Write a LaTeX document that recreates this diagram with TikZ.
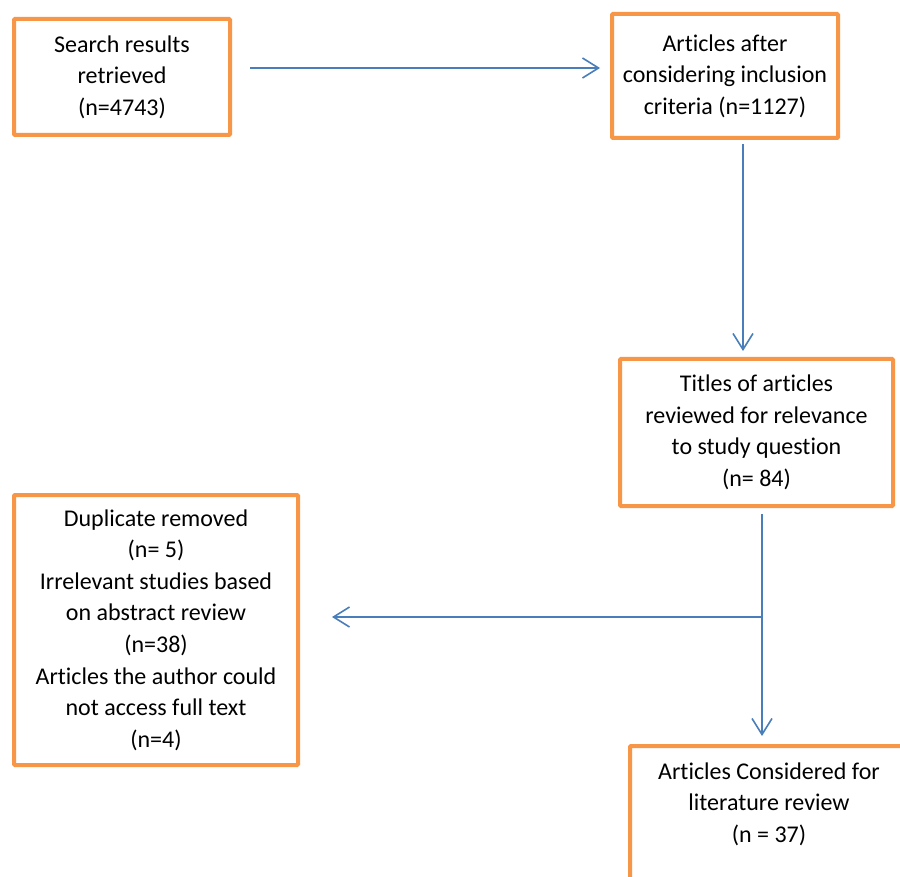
\documentclass[tikz,border=0pt]{standalone}
\usepackage{fontspec}
\setmainfont{Carlito}[Ligatures=NoCommon]
\usetikzlibrary{arrows.meta}
\definecolor{boxorange}{HTML}{F79646}
\definecolor{flowblue}{HTML}{4A7EBB}
\begin{document}
\begin{tikzpicture}[x=1pt, y=-1pt,
	font=\fontsize{24pt}{31.6pt}\selectfont,
	box/.style={draw=boxorange, line width=4pt, fill=white, align=center, inner sep=0pt, rounded corners=1pt},
	flow/.style={draw=flowblue, line width=1.6pt, -{Straight Barb[length=16pt, width=20pt]}}]
	\useasboundingbox (0,0) rectangle (900,877);
	\clip (0,0) rectangle (900,877);
	
	% Kaesten oben
	\node[box, minimum width=216pt, minimum height=116pt] (search) at (122,77) {Search results\\retrieved\\(n=4743)};
	\node[box, minimum width=226pt, minimum height=124pt] (incl) at (725,76) {Articles after\\considering inclusion\\criteria (n=1127)};
	
	% Titel-Pruefung
	\node[box, minimum width=273pt, minimum height=147pt] (titles) at (756.5,432.5) {Titles of articles\\reviewed for relevance\\to study question\\(n= 84)};
	
	% Ausgeschlossene Artikel (links)
	\node[box, minimum width=284pt, minimum height=270pt] (dup) at (156,630) {Duplicate removed\\(n= 5)\\Irrelevant studies based\\on abstract review\\(n=38)\\Articles the author could\\not access full text\\(n=4)};
	
	% Ergebnis (unten, angeschnitten)
	\node[box, minimum width=282pt, minimum height=170pt, anchor=north west] (final) at (628,744) {};
	\node[align=center] (finaltxt) at (769,804) {Articles Considered for\\literature review\\(n = 37)};
	
	% Pfeile
	\draw[flow, shorten <=18pt, shorten >=10pt] ([yshift=9pt]search.east) -- ([yshift=9pt]search.east -| incl.west);
	\draw[flow, shorten <=4pt, shorten >=6pt] ([xshift=18pt]incl.south) -- ([xshift=18pt]incl.south |- titles.north);
	\coordinate (split) at (762,617);
	\draw[flow, shorten <=6pt, shorten >=8pt] (titles.south -| split) -- (final.north -| split);
	\draw[flow, shorten >=32pt] (split) -- (split -| dup.east);
\end{tikzpicture}
\end{document}
